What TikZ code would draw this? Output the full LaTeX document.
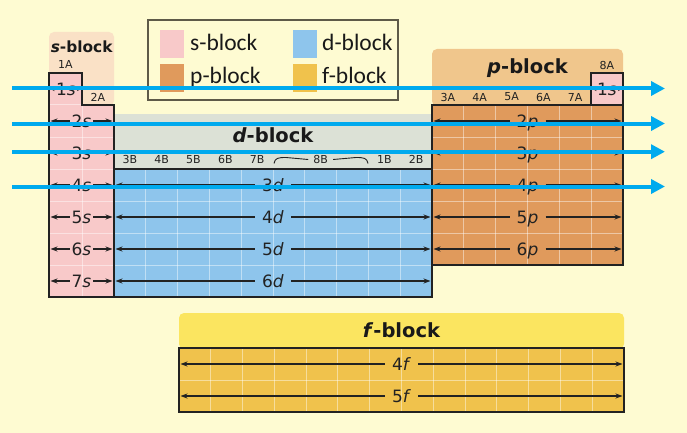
\documentclass[tikz,border=0pt]{standalone}
\usepackage{fontspec}
\setmainfont{DejaVu Sans}
\newfontfamily\legendfont{Carlito}
\usetikzlibrary{arrows.meta}
\definecolor{bg}{HTML}{FEFBD2}
\definecolor{spink}{HTML}{F8C9C9}
\definecolor{shead}{HTML}{FAE1C6}
\definecolor{dblue}{HTML}{8EC5EC}
\definecolor{dhead}{HTML}{DCE1D6}
\definecolor{porange}{HTML}{E09A5C}
\definecolor{phead}{HTML}{F0C68C}
\definecolor{fgold}{HTML}{F0C24C}
\definecolor{fhead}{HTML}{FBE560}
\definecolor{cyanA}{HTML}{00AAEE}
\definecolor{ink}{HTML}{222222}
\definecolor{lborder}{HTML}{5E5A48}
\tikzset{
  outline/.style={draw=ink, line width=1.5pt, line join=miter},
  gridline/.style={draw=white, draw opacity=0.45, line width=1pt},
  rowlab/.style={font=\fontsize{17}{17}\selectfont, inner ysep=0pt, inner xsep=7pt, text=ink, text height=12.4pt, text depth=0pt},
  rowarr/.style={-{Stealth[length=7pt,width=5pt]}, line width=1.1pt, draw=ink},
  smallarr/.style={-{Stealth[length=4pt,width=4pt]}, line width=1pt, draw=ink},
  grp/.style={font=\fontsize{11}{11}\selectfont, text=ink, inner sep=0pt},
  blocktitle/.style={font=\bfseries\fontsize{19.5}{20}\selectfont, inner sep=0pt, text=black!90},
  legtext/.style={font=\legendfont\fontsize{23.5}{24}\selectfont, inner sep=0pt, anchor=base west, text=black!90},
  swatch/.style={minimum width=24pt, minimum height=28pt, inner sep=0pt},
  cyanarr/.style={-{Triangle[length=14pt,width=14pt]}, line width=4pt, draw=cyanA},
}
\begin{document}
\begin{tikzpicture}[x=1pt,y=-1pt]
\fill[bg] (0,0) rectangle (687,433);
\useasboundingbox (0,0) rectangle (687,433);

% ---------- headers ----------
\fill[shead, rounded corners=5pt] (49,32) rectangle (114,106);
\node[blocktitle, font=\bfseries\fontsize{15.4}{16}\selectfont] (stitle) at (81.7,46.5) {\textit{s}-block};
\fill[phead, rounded corners=5pt] (432,49) rectangle (623,106);
\node[blocktitle] (ptitle) at (527.5,68.5) {\textit{p}-block};
\fill[dhead] (114,114) rectangle (432,169);
\node[blocktitle] (dtitle) at (273,135) {\textit{d}-block};
\fill[fhead, rounded corners=5pt] (179,313) rectangle (624,349);
\node[blocktitle] (ftitle) at (401.5,330) {\textit{f}-block};

% ---------- s-block ----------
\fill[spink] (49,73) -- (82,73) -- (82,105) -- (114,105) -- (114,297) -- (49,297) -- cycle;
\draw[gridline] (82,105) -- (82,297);
\draw[gridline] (49,105) -- (82,105);
\foreach \yy in {137,169,201,233,265} \draw[gridline] (49,\yy) -- (114,\yy);
\draw[outline] (49,73) -- (82,73) -- (82,105) -- (114,105) -- (114,297) -- (49,297) -- cycle;

% ---------- d-block ----------
\fill[dblue] (114,169) rectangle (432,297);
\foreach \k in {1,...,9} \draw[gridline] ({114+31.8*\k},169) -- ({114+31.8*\k},297);
\foreach \yy in {201,233,265} \draw[gridline] (114,\yy) -- (432,\yy);
\draw[outline] (114,169) rectangle (432,297);

% ---------- p-block ----------
\fill[porange] (432,105) rectangle (623,265);
\foreach \k in {1,...,5} \draw[gridline] ({432+31.83*\k},105) -- ({432+31.83*\k},265);
\foreach \yy in {137,169,201,233} \draw[gridline] (432,\yy) -- (623,\yy);
\draw[outline] (432,105) rectangle (623,265);
\fill[spink] (591,73) rectangle (623,105);
\draw[outline] (591,73) rectangle (623,105);

% ---------- f-block ----------
\fill[fgold] (179,348) rectangle (624,412);
\foreach \k in {1,...,13} \draw[gridline] ({179+31.79*\k},348) -- ({179+31.79*\k},412);
\draw[gridline] (179,380) -- (624,380);
\draw[outline] (179,348) rectangle (624,412);

% ---------- group labels ----------
\node[grp] (g1A) at (65.5,64) {1A};
\node[grp] (g2A) at (98,97) {2A};
\foreach \k/\t in {1/3B,2/4B,3/5B,4/6B,5/7B,9/1B,10/2B}
  \node[grp] (gB\k) at ({114+31.8*(\k-0.5)},159.5) {\t};
\node[grp, inner xsep=5pt] (g8B) at ({114+31.8*6.5},159.5) {8B};
\coordinate (br1) at (274,163.5);
\coordinate (br2) at (368,163.5);
\draw[ink, line width=0.9pt] (br1) .. controls (275,158) and (278,157.5) .. (286,157.5) -- (g8B.west);
\draw[ink, line width=0.9pt] (g8B.east) -- (356,157.5) .. controls (364,157.5) and (367,158) .. (br2);
\foreach \k in {1,...,5}
  \node[grp] (gA\k) at ({432+31.83*(\k-0.5)},97) {\the\numexpr\k+2\relax A};
\node[grp] (g8A) at (607,65) {8A};

% ---------- row labels with arrows ----------
\node[rowlab, inner xsep=1pt] (s1) at (66,89) {1\textit{s}};
\coordinate (s1L) at (50.5,89); \coordinate (s1R) at (81,89);
\draw[smallarr] (s1.west) -- (s1L);
\draw[smallarr] (s1.east) -- (s1R);
\node[rowlab, inner xsep=1pt] (he1) at (607,89) {1\textit{s}};
\coordinate (he1L) at (592.5,89); \coordinate (he1R) at (622,89);
\draw[smallarr] (he1.west) -- (he1L);
\draw[smallarr] (he1.east) -- (he1R);

\foreach \n/\yy in {2/121,3/153,4/185,5/217,6/249,7/281}{
  \node[rowlab, inner xsep=1.5pt] (s\n) at (81.5,\yy) {\n\textit{s}};
  \coordinate (s\n L) at (50.5,\yy); \coordinate (s\n R) at (112.5,\yy);
  \draw[rowarr] (s\n.west) -- (s\n L);
  \draw[rowarr] (s\n.east) -- (s\n R);
}
\foreach \n/\yy in {3/185,4/217,5/249,6/281}{
  \node[rowlab] (d\n) at (273,\yy) {\n\textit{d}};
  \coordinate (d\n L) at (115.5,\yy); \coordinate (d\n R) at (430.5,\yy);
  \draw[rowarr] (d\n.west) -- (d\n L);
  \draw[rowarr] (d\n.east) -- (d\n R);
}
\foreach \n/\yy in {2/121,3/153,4/185,5/217,6/249}{
  \node[rowlab] (p\n) at (527.5,\yy) {\n\textit{p}};
  \coordinate (p\n L) at (433.5,\yy); \coordinate (p\n R) at (621.5,\yy);
  \draw[rowarr] (p\n.west) -- (p\n L);
  \draw[rowarr] (p\n.east) -- (p\n R);
}
\foreach \n/\yy in {4/364,5/396}{
  \node[rowlab] (f\n) at (401.5,\yy) {\n\textit{f}};
  \coordinate (f\n L) at (180.5,\yy); \coordinate (f\n R) at (622.5,\yy);
  \draw[rowarr] (f\n.west) -- (f\n L);
  \draw[rowarr] (f\n.east) -- (f\n R);
}

% ---------- legend ----------
\draw[draw=lborder, line width=1.4pt] (148,20) rectangle (398,100);
\node[swatch, fill=spink] (lsw1) at (172,44) {};
\node[swatch, fill=porange] (lsw2) at (172,78) {};
\node[swatch, fill=dblue] (lsw3) at (305,44) {};
\node[swatch, fill=fgold] (lsw4) at (305,78) {};
\node[legtext] (lt1) at (190,51) {s-block};
\node[legtext] (lt2) at (190,84) {p-block};
\node[legtext] (lt3) at (322,51) {d-block};
\node[legtext] (lt4) at (322,84) {f-block};

% ---------- cyan overlay arrows ----------
\foreach \i/\yy in {1/88.5,2/123.5,3/151.7,4/186.5}{
  \coordinate (c\i s) at (12,\yy);
  \coordinate (c\i e) at (665,\yy);
  \draw[cyanarr] (c\i s) -- (c\i e);
}
\end{tikzpicture}
\end{document}
